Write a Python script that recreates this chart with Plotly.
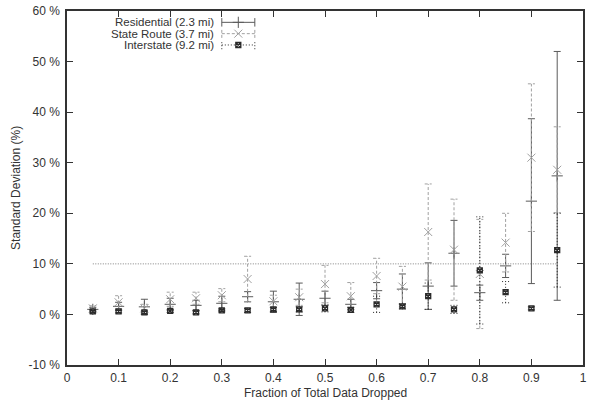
import plotly.graph_objects as go

# ---------------- data ----------------
fraction = [0.05, 0.10, 0.15, 0.20, 0.25, 0.30, 0.35, 0.40, 0.45, 0.50,
            0.55, 0.60, 0.65, 0.70, 0.75, 0.80, 0.85, 0.90, 0.95]

res_mean = [1.0, 1.6, 1.5, 2.0, 1.8, 2.2, 3.5, 2.5, 3.0, 3.2,
            2.0, 4.7, 5.0, 5.6, 12.1, 4.3, 9.6, 22.4, 27.4]
res_err = [0.4, 0.8, 1.5, 1.2, 1.0, 1.4, 1.0, 2.1, 3.2, 1.4,
           1.0, 1.6, 3.0, 4.6, 6.5, 1.5, 2.3, 16.3, 24.6]

sr_mean = [1.2, 2.4, 1.2, 3.0, 3.2, 3.8, 7.0, 2.6, 3.4, 6.0,
           3.6, 7.6, 5.5, 16.3, 12.8, 8.0, 14.2, 31.0, 28.6]
sr_err = [0.5, 1.3, 0.8, 1.4, 1.2, 1.3, 4.5, 1.2, 1.6, 3.7,
          2.7, 3.5, 4.0, 9.5, 10.0, 10.8, 5.8, 14.6, 8.5]

int_mean = [0.6, 0.6, 0.4, 0.7, 0.4, 0.8, 0.8, 1.0, 1.0, 1.2,
            0.9, 2.0, 1.6, 3.6, 1.0, 8.7, 4.4, 1.2, 12.7]
int_err = [0.3, 0.3, 0.3, 0.3, 0.3, 0.3, 0.4, 0.4, 0.5, 0.7,
           0.5, 1.6, 0.5, 2.6, 0.8, 10.6, 2.1, 0.3, 7.3]

series_names = ["Residential (2.3 mi)", "State Route (3.7 mi)", "Interstate (9.2 mi)"]

ref_x = [0.05, 0.95]
ref_y = [10, 10]

x_title = "Fraction of Total Data Dropped"
y_title = "Standard Deviation (%)"
y_ticks = [-10, 0, 10, 20, 30, 40, 50, 60]
y_tick_text = [f"{v} %" for v in y_ticks]
x_ticks = [0, 0.1, 0.2, 0.3, 0.4, 0.5, 0.6, 0.7, 0.8, 0.9, 1]
x_tick_text = ["0", "0.1", "0.2", "0.3", "0.4", "0.5", "0.6", "0.7", "0.8", "0.9", "1"]

# ---------------- styles ----------------
CAP = 0.0068
styles = [
    dict(color="#5a5a5a", dash="solid", symbol="cross-thin-open", size=8, mw=1),
    dict(color="#a0a0a0", dash="3px,2px", symbol="x-thin-open", size=8, mw=1),
    dict(color="#2a2a2a", dash="1px,2px", symbol="square-x-open", size=5, mw=1.3),
]


def bar_segments(xs, ms, es):
    bx, by = [], []
    for x, m, e in zip(xs, ms, es):
        lo, hi = m - e, m + e
        bx += [x, x, None, x - CAP, x + CAP, None, x - CAP, x + CAP, None]
        by += [lo, hi, None, hi, hi, None, lo, lo, None]
    return bx, by


fig = go.Figure()

fig.add_trace(go.Scatter(x=ref_x, y=ref_y, mode="lines",
                         line=dict(color="#808080", width=1, dash="1px,1.5px"),
                         showlegend=False, hoverinfo="skip"))

data = [(res_mean, res_err), (sr_mean, sr_err), (int_mean, int_err)]
for (ms, es), st, name in zip(data, styles, series_names):
    bx, by = bar_segments(fraction, ms, es)
    fig.add_trace(go.Scatter(x=bx, y=by, mode="lines",
                             line=dict(color=st["color"], width=1, dash=st["dash"]),
                             showlegend=False, hoverinfo="skip"))
    fig.add_trace(go.Scatter(x=fraction, y=ms, mode="markers", name=name,
                             marker=dict(symbol=st["symbol"], size=st["size"],
                                         color=st["color"],
                                         line=dict(color=st["color"], width=st["mw"])),
                             showlegend=False))

# ---------------- manual gnuplot-style legend (overlay axes) ----------------
leg_x0, leg_x1 = 0.300, 0.364
leg_rows = [0.968, 0.936, 0.904]
cap_y = 0.012
for st, name, ry in zip(styles, series_names, leg_rows):
    fig.add_trace(go.Scatter(
        x=[leg_x0, leg_x1, None, leg_x0, leg_x0, None, leg_x1, leg_x1],
        y=[ry, ry, None, ry - cap_y, ry + cap_y, None, ry - cap_y, ry + cap_y],
        mode="lines", line=dict(color=st["color"], width=1, dash=st["dash"]),
        xaxis="x2", yaxis="y2", showlegend=False, hoverinfo="skip"))
    fig.add_trace(go.Scatter(
        x=[(leg_x0 + leg_x1) / 2], y=[ry], mode="markers",
        marker=dict(symbol=st["symbol"], size=st["size"], color=st["color"],
                    line=dict(color=st["color"], width=st["mw"])),
        xaxis="x2", yaxis="y2", showlegend=False, hoverinfo="skip"))
    fig.add_annotation(x=0.287, y=ry, xref="paper", yref="paper", text=name,
                       showarrow=False, xanchor="right", yanchor="middle",
                       borderpad=0,
                       font=dict(size=11.5, color="#333333"))

# axis titles as annotations (gnuplot placement)
fig.add_annotation(x=0.5, y=-0.080, xref="paper", yref="paper", text=x_title,
                   showarrow=False, xanchor="center", yanchor="middle",
                   borderpad=0, font=dict(size=12, color="#333333"))
fig.add_annotation(x=-0.099, y=0.5, xref="paper", yref="paper", text=y_title,
                   showarrow=False, xanchor="center", yanchor="middle",
                   textangle=-90, font=dict(size=12, color="#333333"))

font = dict(family="Liberation Sans, Arial, sans-serif", size=12, color="#333333")
fig.update_layout(
    width=591, height=400,
    margin=dict(l=67, r=8, t=11, b=35),
    paper_bgcolor="white", plot_bgcolor="white",
    font=font,
    showlegend=False,
    xaxis=dict(range=[0, 1], tickvals=x_ticks, ticktext=x_tick_text,
               ticks="inside", ticklen=6, tickcolor="#333333", tickwidth=1,
               ticklabelstandoff=1, automargin=False,
               showline=True, linecolor="#333333", linewidth=1.5, mirror="ticks",
               showgrid=False, zeroline=False),
    yaxis=dict(range=[-10, 60], tickvals=y_ticks, ticktext=y_tick_text,
               ticks="inside", ticklen=6, tickcolor="#333333", tickwidth=1,
               ticklabelstandoff=3, automargin=False,
               showline=True, linecolor="#333333", linewidth=1.5, mirror="ticks",
               showgrid=False, zeroline=False),
    xaxis2=dict(range=[0, 1], overlaying="x", visible=False, fixedrange=True),
    yaxis2=dict(range=[0, 1], overlaying="y", visible=False, fixedrange=True),
)

fig.write_html("out.html")
